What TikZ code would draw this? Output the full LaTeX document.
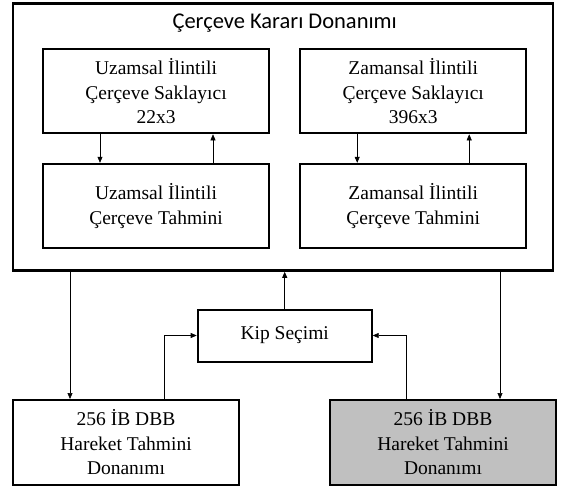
\documentclass[tikz,border=0pt]{standalone}
\usepackage{fontspec}
\setmainfont{Liberation Serif}
\newfontfamily\titlefont{Carlito}
\usetikzlibrary{arrows.meta,positioning}
\definecolor{BoxGray}{HTML}{C0C0C0}
\tikzset{
  unit box/.style={draw,line width=2pt,align=center,inner sep=0pt,
    minimum width=226pt,minimum height=84pt,
    font=\fontsize{19.5}{24.5}\selectfont},
  link arrow/.style={-{Triangle[length=6pt,width=5pt]},line width=0.6pt}
}
\begin{document}
\begin{tikzpicture}[x=1pt,y=-1pt]
  \useasboundingbox (0,0) rectangle (565,487);
  % frame with the two pairs of units
  \node[draw,line width=2.6pt,minimum width=540pt,minimum height=267pt,inner sep=0pt] (frame) at (283,137) {};
  \node[font=\titlefont\fontsize{22.5}{26}\selectfont] (title) at (284.7,23.3) {Çerçeve Kararı Donanımı};
  \node[unit box] (uzsak) at (156,91.3) {Uzamsal İlintili\\Çerçeve Saklayıcı\\22x3};
  \node[unit box] (uztah) at (156,205.8) {Uzamsal İlintili\\Çerçeve Tahmini};
  \node[unit box] (zasak) at (413.2,91.3) {Zamansal İlintili\\Çerçeve Saklayıcı\\396x3};
  \node[unit box] (zatah) at (413.2,205.8) {Zamansal İlintili\\Çerçeve Tahmini};
  \draw[link arrow] ([xshift=-56pt]uzsak.south) -- ([xshift=-56pt]uztah.north);
  \draw[link arrow] ([xshift=57pt]uztah.north) -- ([xshift=57pt]uzsak.south);
  \draw[link arrow] ([xshift=-56pt]zasak.south) -- ([xshift=-56pt]zatah.north);
  \draw[link arrow] ([xshift=56pt]zatah.north) -- ([xshift=56pt]zasak.south);
  % mode selection and motion estimation
  \node[unit box,minimum width=174pt,minimum height=52pt] (kip) at (284.7,335.5) {Kip Seçimi};
  \node[unit box,minimum height=85pt] (hmleft) at (126,442.5) {256 İB DBB\\Hareket Tahmini\\Donanımı};
  \node[unit box,minimum height=85pt,fill=BoxGray] (hmright) at (443,442.5) {256 İB DBB\\Hareket Tahmini\\Donanımı};
  \draw[link arrow] ([xshift=-56pt]hmleft.north |- frame.south) -- ([xshift=-56pt]hmleft.north);
  \draw[link arrow] ([xshift=57pt]hmright.north |- frame.south) -- ([xshift=57pt]hmright.north);
  \draw[link arrow] (kip.north) -- (kip.north |- frame.south);
  \draw[link arrow] ([xshift=38pt]hmleft.north) |- (kip.west);
  \draw[link arrow] ([xshift=-37pt]hmright.north) |- (kip.east);
\end{tikzpicture}
\end{document}
